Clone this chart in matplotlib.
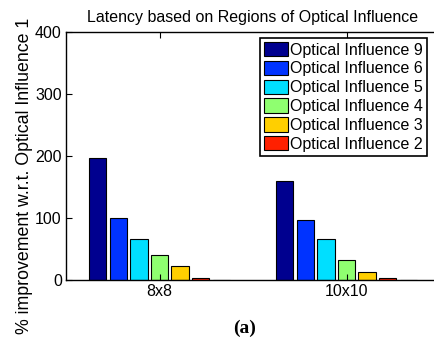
import matplotlib
matplotlib.use("Agg")
import matplotlib.pyplot as plt
import numpy as np

plt.rcParams['font.family'] = ['Liberation Sans', 'DejaVu Sans']

# ------------------ data ------------------
groups = ["8x8", "10x10"]
series_names = ["Optical Influence 9", "Optical Influence 6", "Optical Influence 5",
                "Optical Influence 4", "Optical Influence 3", "Optical Influence 2",
                "Optical Influence 1"]
oi9 = [196, 160]
oi6 = [100, 97]
oi5 = [66, 66]
oi4 = [40, 33]
oi3 = [22, 13]
oi2 = [4, 4]
oi1 = [0.6, 0.6]
colors = ["#00008f", "#0033ff", "#00dfff", "#8fff70", "#ffcf00", "#ff2000", "#800000"]

values = [oi9, oi6, oi5, oi4, oi3, oi2, oi1]

# ------------------ figure ------------------
fig = plt.figure(figsize=(4.35, 3.39), dpi=100)
ax = fig.add_axes([66 / 435, 59 / 339, 374 / 435, 248 / 339])

x = np.arange(1, len(groups) + 1)
n = len(values)
slot = 0.11
bw = 0.092
handles = []
for i, (vals, c) in enumerate(zip(values, colors)):
    off = (i - (n - 1) / 2) * slot
    b = ax.bar(x + off, vals, width=bw, color=c, edgecolor="black", linewidth=0.8)
    handles.append(b)

ax.set_xlim(0.5, 2.5)
ax.set_ylim(0, 400)
ax.set_yticks([0, 100, 200, 300, 400])
ax.set_xticks(x)
ax.set_xticklabels(groups)
ax.tick_params(direction="in", top=True, right=True, labelsize=11.5, length=4, width=0.8,
               pad=3)
for s in ax.spines.values():
    s.set_linewidth(1.0)

ax.set_ylabel("% improvement w.r.t. Optical Influence 1", fontsize=12.8)
ax.yaxis.set_label_coords(-0.088, 0.42)
ax.set_title("Latency based on Regions of Optical Influence", fontsize=11.5, pad=7)

leg = fig.legend(handles[:6], series_names[:6], loc="upper right",
                 bbox_to_anchor=(427 / 435, 1 - 38 / 339), fontsize=11.5,
                 handlelength=1.5, handleheight=1.0, handletextpad=0.15,
                 labelspacing=0.2, borderpad=0.25, borderaxespad=0.0,
                 fancybox=False, framealpha=1, edgecolor="black")
leg.get_frame().set_linewidth(1.2)

fig.text(245 / 435, 1 - 328 / 339, "(a)", fontsize=14, fontweight="bold",
         family="Liberation Serif", ha="center", va="center")

fig.savefig("out.png", dpi=100)
